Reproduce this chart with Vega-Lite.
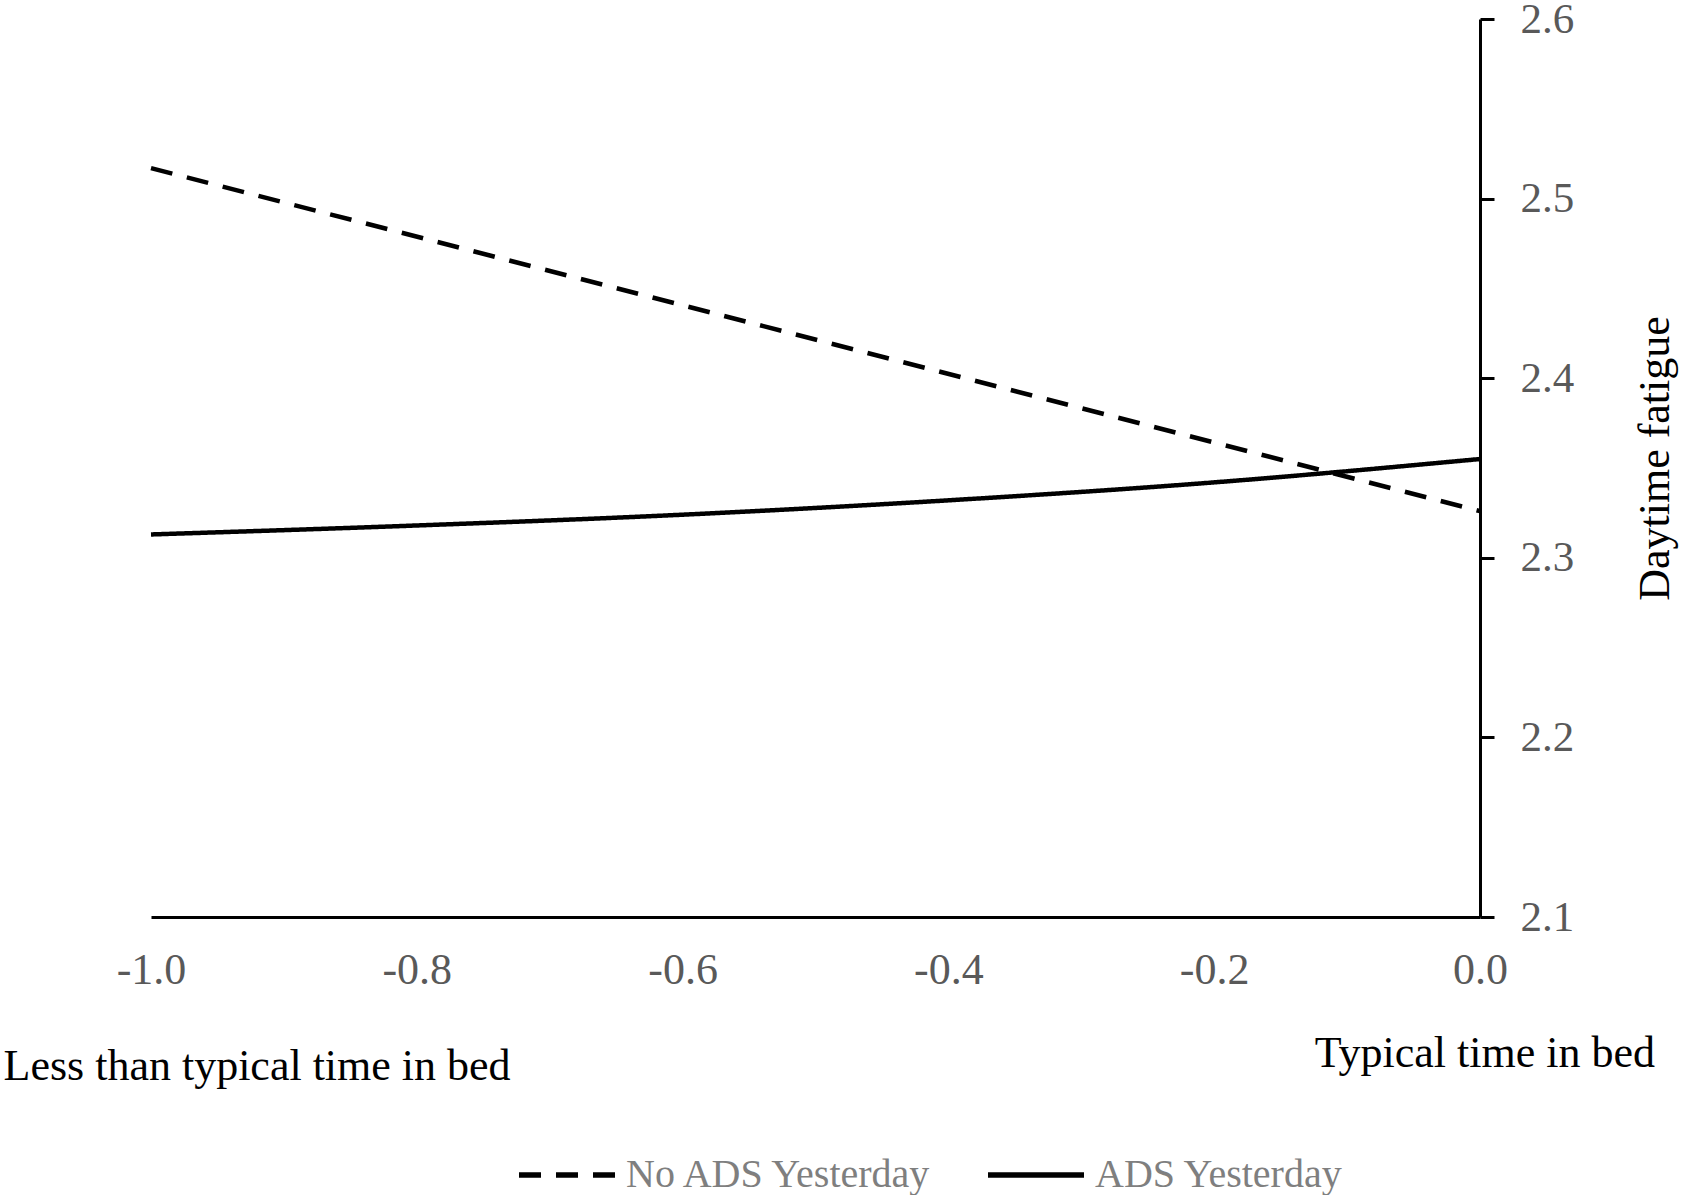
{
  "$schema": "https://vega.github.io/schema/vega-lite/v6.json",
  "width": 1329,
  "height": 898,
  "autosize": "none",
  "padding": {"left": 151, "top": 19, "right": 210, "bottom": 278},
  "background": "white",
  "config": {"view": {"stroke": null}, "font": "Liberation Serif"},
  "title": {
    "text": "Typical time in bed",
    "orient": "top",
    "anchor": "end",
    "frame": "group",
    "font": "Liberation Serif",
    "fontSize": 44,
    "fontWeight": "normal",
    "color": "black",
    "baseline": "middle",
    "offset": 0,
    "dx": 175,
    "dy": 1100
  },
  "data": {
    "values": [
      {"time": -1.0, "fatigue": 2.517, "group": "No ADS Yesterday"},
      {"time": 0.0, "fatigue": 2.326, "group": "No ADS Yesterday"},
      {"time": -1.0, "fatigue": 2.313, "group": "ADS Yesterday"},
      {"time": -0.8, "fatigue": 2.318, "group": "ADS Yesterday"},
      {"time": -0.6, "fatigue": 2.324, "group": "ADS Yesterday"},
      {"time": -0.4, "fatigue": 2.332, "group": "ADS Yesterday"},
      {"time": -0.2, "fatigue": 2.342, "group": "ADS Yesterday"},
      {"time": 0.0, "fatigue": 2.355, "group": "ADS Yesterday"}
    ]
  },
  "mark": {"type": "line", "strokeWidth": 4.5, "color": "black", "clip": false, "interpolate": "monotone"},
  "encoding": {
    "x": {
      "field": "time",
      "type": "quantitative",
      "scale": {"domain": [-1, 0], "nice": false, "zero": false},
      "axis": {
        "values": [-1, -0.8, -0.6, -0.4, -0.2, 0],
        "labelExpr": "replace(format(datum.value, '.1f'), '\u2212', '-')",
        "grid": false,
        "ticks": false,
        "tickSize": 0,
        "domainColor": "black",
        "domainWidth": 3,
        "labelFont": "Liberation Serif",
        "labelFontSize": 44,
        "labelColor": "#595959",
        "labelBaseline": "middle",
        "labelPadding": 53,
        "labelFlush": false,
        "labelOverlap": false,
        "title": "Less than typical time in bed",
        "titleFont": "Liberation Serif",
        "titleFontSize": 44,
        "titleFontWeight": "normal",
        "titleColor": "black",
        "titleAlign": "left",
        "titleBaseline": "middle",
        "titleX": -148,
        "titleY": 149
      }
    },
    "y": {
      "field": "fatigue",
      "type": "quantitative",
      "scale": {"domain": [2.1, 2.6], "nice": false, "zero": false},
      "axis": {
        "orient": "right",
        "values": [2.1, 2.2, 2.3, 2.4, 2.5, 2.6],
        "format": ".1f",
        "grid": false,
        "tickSize": 14,
        "tickWidth": 3,
        "tickColor": "black",
        "domainColor": "black",
        "domainWidth": 3,
        "labelFont": "Liberation Serif",
        "labelFontSize": 43,
        "labelColor": "#595959",
        "labelPadding": 26,
        "labelFlush": false,
        "labelOverlap": false,
        "title": "Daytime fatigue",
        "titleFont": "Liberation Serif",
        "titleFontSize": 44,
        "titleFontWeight": "normal",
        "titleColor": "black",
        "titleAngle": 270,
        "titleAlign": "center",
        "titleBaseline": "middle",
        "titleX": 175,
        "titleY": 439
      }
    },
    "strokeDash": {
      "field": "group",
      "type": "nominal",
      "scale": {"domain": ["No ADS Yesterday", "ADS Yesterday"], "range": [[22, 15], [1, 0]]},
      "legend": {
        "orient": "none",
        "legendX": 365,
        "legendY": 1105,
        "direction": "horizontal",
        "title": null,
        "symbolType": "stroke",
        "symbolSize": 9216,
        "symbolStrokeWidth": 5.5,
        "symbolStrokeColor": "black",
        "labelFont": "Liberation Serif",
        "labelFontSize": 40,
        "labelColor": "#7f7f7f",
        "labelOffset": 8,
        "columnPadding": 43,
        "labelLimit": 0
      }
    }
  }
}
